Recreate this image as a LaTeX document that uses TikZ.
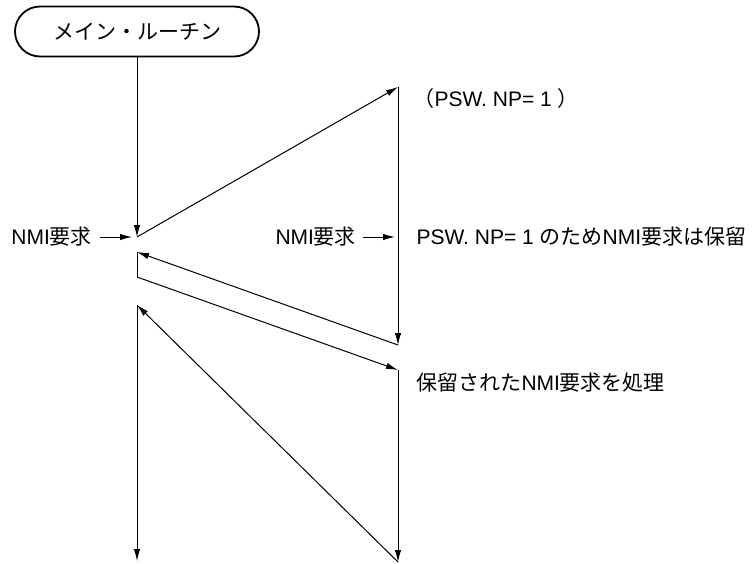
\documentclass[tikz,border=0pt]{standalone}
\usepackage{fontspec}
\setmainfont{Liberation Sans}
\newfontfamily\jp{Noto Sans CJK JP}
\usetikzlibrary{arrows.meta,positioning}

\begin{document}
\begin{tikzpicture}[x=1pt, y=-1pt, line width=1pt,
    every node/.style={font=\fontsize{21}{25}\selectfont, inner sep=0pt},
    flow/.style={-{Latex[length=12pt,width=6.5pt]}},
    startbox/.style={draw, line width=1.8pt, rounded corners=25pt, minimum width=244pt, minimum height=50pt}]
    \useasboundingbox (0,0) rectangle (752,564);
    \node[startbox] (main) at (137,31.5) {\jp メイン・ルーチン};
    % left and right time lines
    \coordinate (m1) at (137,237);
    \coordinate (m2) at (137,252);
    \coordinate (m3) at (137,277);
    \coordinate (m4) at (137,305);
    \coordinate (m5) at (137,561);
    \coordinate (r1) at (398,87);
    \coordinate (r2) at (398,345);
    \coordinate (r3) at (398,370);
    \coordinate (r4) at (398,562);
    \draw[flow] (main.south) -- (m1);
    \draw[flow] (m1) -- (r1);
    \draw[flow] (r1) -- (r2);
    \draw[flow] (r2) -- (m2);
    \draw (m2) -- (m3);
    \draw[flow] (m3) -- (r3);
    \draw[flow] (r3) -- (r4);
    \draw[flow] (r4) -- (m4);
    \draw[flow] (m4) -- (m5);
    % requests
    \node[anchor=west] (nmiL) at (11,237) {NMI{\jp 要求}};
    \node[anchor=west] (nmiR) at (275,237) {NMI{\jp 要求}};
    \coordinate (aL) at (132,237);
    \coordinate (aR) at (395,237);
    \draw[flow] ([xshift=8pt]nmiL.east) -- (aL);
    \draw[flow] ([xshift=7pt]nmiR.east) -- (aR);
    % notes
    \node[anchor=west] (np) at (413,99) {{\jp （}PSW. NP= 1 {\jp ）}};
    \node[anchor=west] (hold) at (416,237) {PSW. NP= 1 {\jp のため}NMI{\jp 要求は保留}};
    \node[anchor=west] (proc) at (416,383) {{\jp 保留された}NMI{\jp 要求を処理}};
\end{tikzpicture}
\end{document}
